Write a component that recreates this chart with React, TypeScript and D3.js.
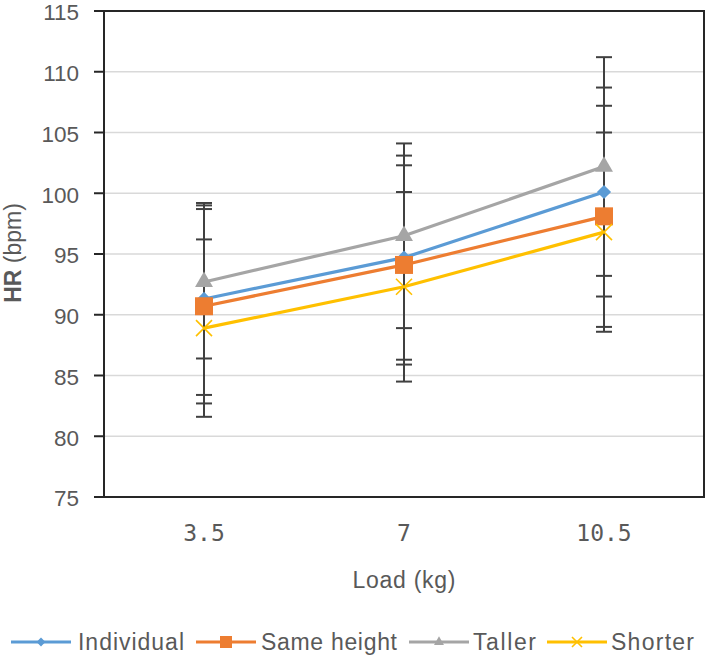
import React from 'react'
import * as d3 from 'd3'

// HR by load, mean ± SD for each condition
const loads = ['3.5', '7', '10.5']
const individual = [91.3, 94.7, 100.1]
const individualSd = [7.9, 8.4, 8.6]
const sameHeight = [90.7, 94.1, 98.1]
const sameHeightSd = [8.0, 8.2, 9.1]
const taller = [92.7, 96.5, 102.2]
const tallerSd = [6.3, 7.6, 9.0]
const shorter = [88.9, 92.3, 96.8]
const shorterSd = [7.3, 7.8, 8.2]
const yTicks = [75, 80, 85, 90, 95, 100, 105, 110, 115]

type Marker = 'diamond' | 'square' | 'triangle' | 'cross'

interface Series {
    name: string
    values: number[]
    sd: number[]
    color: string
    marker: Marker
}

const series: Series[] = [
    { name: 'Individual', values: individual, sd: individualSd, color: '#5B9BD5', marker: 'diamond' },
    { name: 'Same height', values: sameHeight, sd: sameHeightSd, color: '#ED7D31', marker: 'square' },
    { name: 'Taller', values: taller, sd: tallerSd, color: '#A5A5A5', marker: 'triangle' },
    { name: 'Shorter', values: shorter, sd: shorterSd, color: '#FFC000', marker: 'cross' },
]

const W = 708
const H = 660
const plot = { left: 104, right: 704, top: 11, bottom: 497 }
const textGrey = '#595959'
const sansFont = '"Liberation Sans", Arial, sans-serif'

const x = d3.scalePoint<string>().domain(loads).range([plot.left, plot.right]).padding(0.5)
const y = d3.scaleLinear().domain([75, 115]).range([plot.bottom, plot.top])

const line = d3
    .line<number>()
    .x((_, i) => x(loads[i]) as number)
    .y((d) => y(d))

function markerPath(kind: Marker, s: number): string {
    const symbol = d3.symbol()
    if (kind === 'diamond') return symbol.type(d3.symbolDiamond2).size(s * s * 0.5)() as string
    if (kind === 'square') return symbol.type(d3.symbolSquare).size(s * s)() as string
    if (kind === 'triangle') return symbol.type(d3.symbolTriangle).size(s * s * 0.43)() as string
    const h = s / 2
    return `M${-h},${-h}L${h},${h}M${-h},${h}L${h},${-h}`
}

const MarkerShape: React.FC<{ kind: Marker; color: string; size: number; cx: number; cy: number }> = ({
    kind,
    color,
    size,
    cx,
    cy,
}) => (
    <path
        transform={`translate(${cx},${cy})`}
        d={markerPath(kind, size)}
        fill={kind === 'cross' ? 'none' : color}
        stroke={kind === 'cross' ? color : 'none'}
        strokeWidth={kind === 'cross' ? 1.6 : 0}
    />
)

// legend layout: [line start, text start, text width]
const legendPos: [number, number, number][] = [
    [11, 78, 106],
    [196, 261, 136],
    [409, 473, 63],
    [547, 611, 83],
]

const App: React.FC = () => {
    const legendY = 642
    return (
        <svg
            width={W}
            height={H}
            style={{ position: 'absolute', left: 0, top: 0, background: '#fff' }}
            fontFamily={sansFont}
        >
            {/* gridlines */}
            {yTicks.map((t) => (
                <line key={t} x1={plot.left} x2={plot.right} y1={y(t)} y2={y(t)} stroke="#d9d9d9" strokeWidth={1.5} />
            ))}

            {/* plot frame */}
            <rect
                x={plot.left}
                y={plot.top}
                width={plot.right - plot.left}
                height={plot.bottom - plot.top}
                fill="none"
                stroke="#262626"
                strokeWidth={2}
            />

            {/* y axis ticks and labels */}
            {yTicks.map((t) => (
                <g key={t}>
                    <line x1={plot.left - 10} x2={plot.left} y1={y(t)} y2={y(t)} stroke="#262626" strokeWidth={2} />
                    <text x={79} y={y(t)} dy="0.42em" textAnchor="end" fontSize={22.5} fill={textGrey}>
                        {t}
                    </text>
                </g>
            ))}

            {/* x labels */}
            {loads.map((l) => (
                <text
                    key={l}
                    x={x(l)}
                    y={541}
                    textAnchor="middle"
                    fontSize={23}
                    fill={textGrey}
                    fontFamily='"DejaVu Sans Mono", monospace'
                >
                    {l}
                </text>
            ))}

            {/* axis titles */}
            <text x={404} y={588} textAnchor="middle" fontSize={23} fill={textGrey} textLength={103}>
                Load (kg)
            </text>
            <text
                transform={`translate(21,${253}) rotate(-90)`}
                textAnchor="middle"
                fontSize={23}
                fill={textGrey}
            >
                <tspan fontWeight="bold">HR</tspan> (bpm)
            </text>

            {/* series lines */}
            {series.map((s) => (
                <path key={s.name} d={line(s.values) as string} fill="none" stroke={s.color} strokeWidth={3.2} />
            ))}

            {/* error bars */}
            {series.map((s) =>
                s.values.map((v, i) => {
                    const cx = x(loads[i]) as number
                    const hi = y(v + s.sd[i])
                    const lo = y(v - s.sd[i])
                    return (
                        <g key={`${s.name}-${i}`} stroke="#404040" strokeWidth={2}>
                            <line x1={cx} x2={cx} y1={hi} y2={lo} />
                            <line x1={cx - 8} x2={cx + 8} y1={hi} y2={hi} />
                            <line x1={cx - 8} x2={cx + 8} y1={lo} y2={lo} />
                        </g>
                    )
                })
            )}

            {/* markers */}
            {series.map((s) =>
                s.values.map((v, i) => (
                    <MarkerShape
                        key={`${s.name}-m${i}`}
                        kind={s.marker}
                        color={s.color}
                        size={s.marker === 'diamond' ? 16 : s.marker === 'cross' ? 16 : 18}
                        cx={x(loads[i]) as number}
                        cy={y(v)}
                    />
                ))
            )}

            {/* legend */}
            {series.map((s, i) => {
                const [lx, tx, tw] = legendPos[i]
                return (
                    <g key={s.name}>
                        <line x1={lx} x2={lx + 60} y1={legendY} y2={legendY} stroke={s.color} strokeWidth={3} />
                        <MarkerShape kind={s.marker} color={s.color} size={s.marker === 'square' ? 12 : 10} cx={lx + 30} cy={legendY} />
                        <text x={tx} y={legendY} dy="0.36em" fontSize={23} fill={textGrey} textLength={tw}>
                            {s.name}
                        </text>
                    </g>
                )
            })}
        </svg>
    )
}

export default App
